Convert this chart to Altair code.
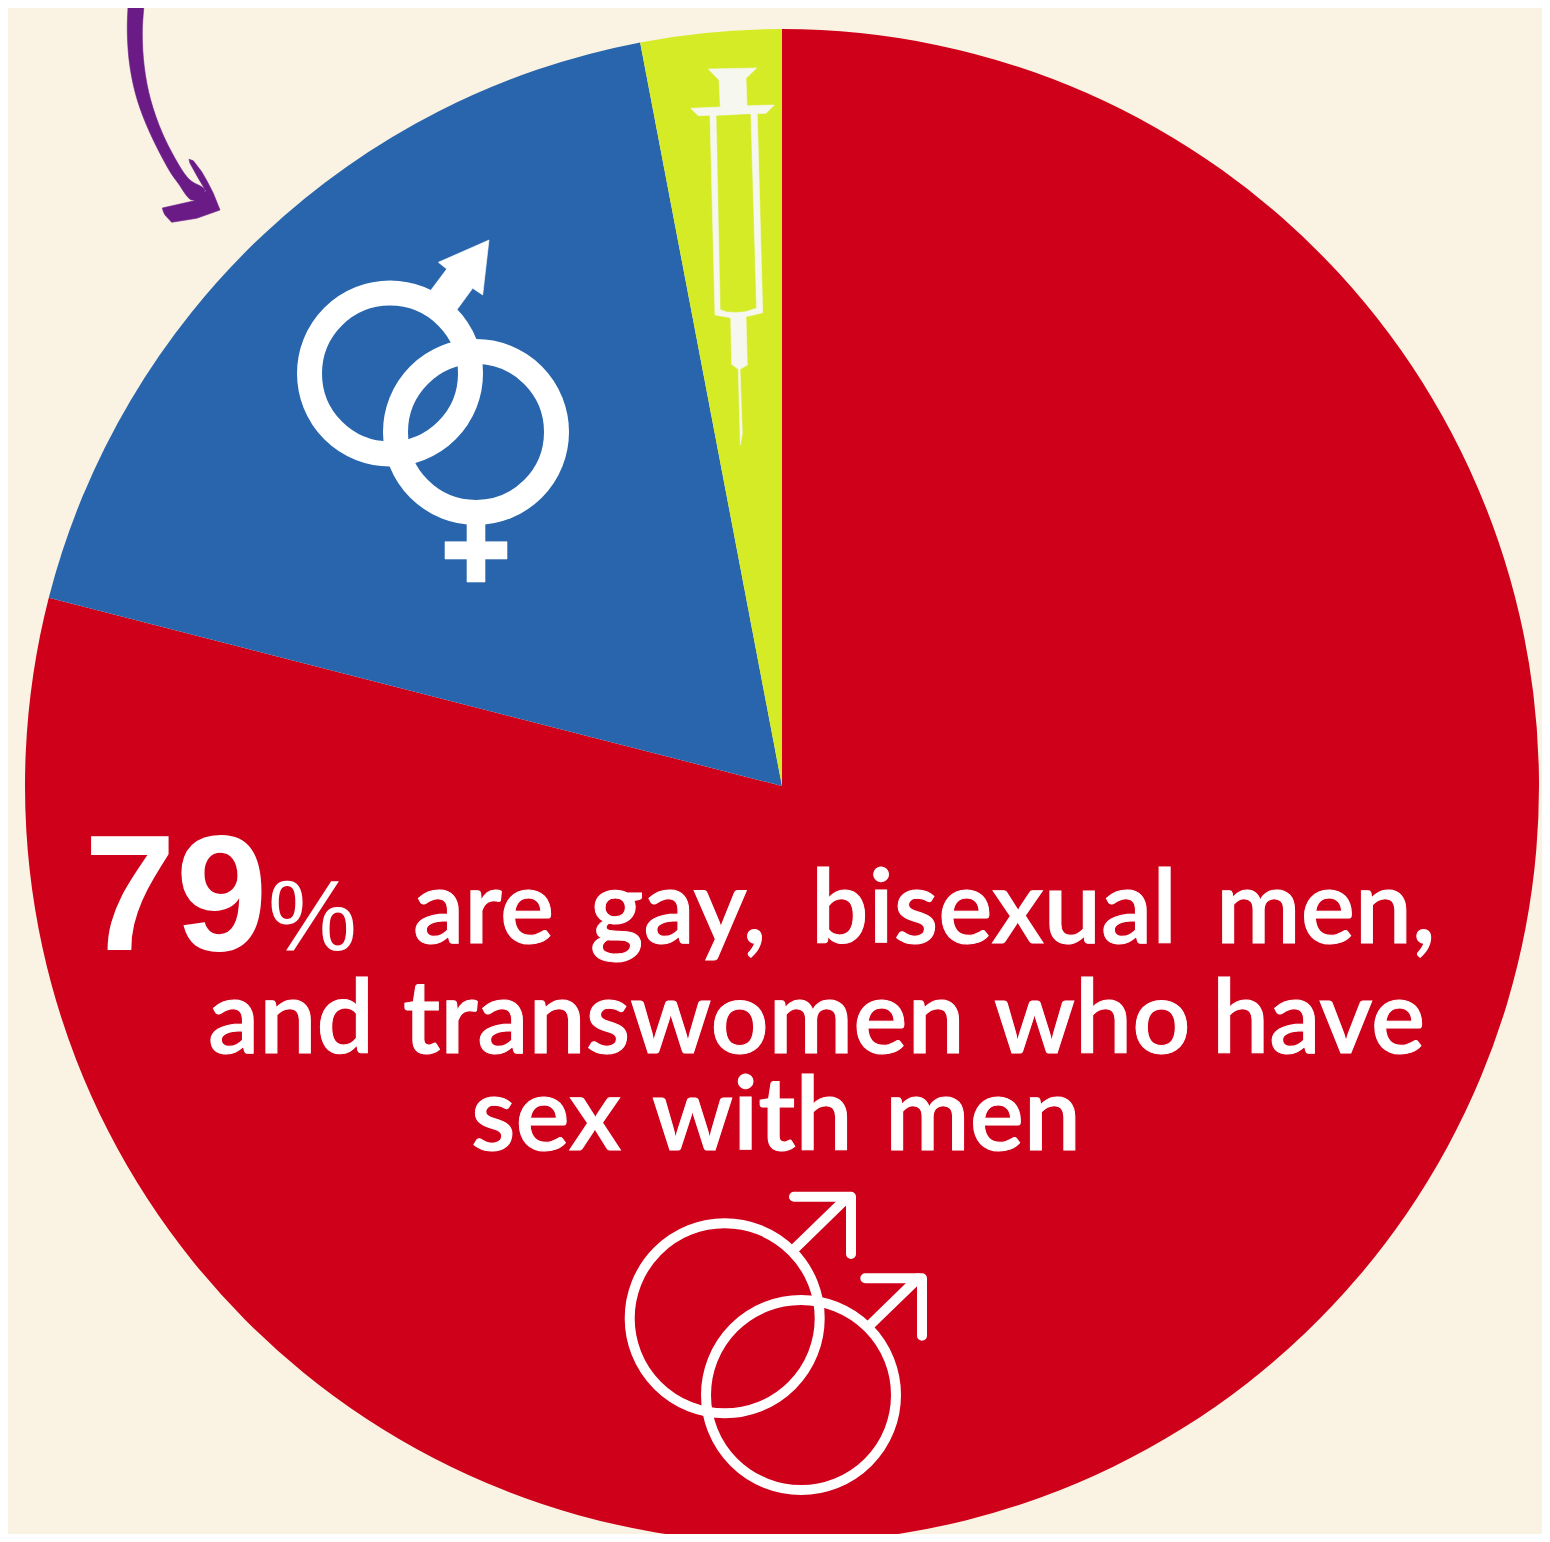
import altair as alt
import pandas as pd

BG = "#FAF3E3"
RED = "#CF001A"
BLUE = "#2865AC"
GREEN = "#D4EB26"
PURPLE = "#6A1B86"
IVORY = "#F6F7EE"
WHITE = "#FFFFFF"

# pie
slice_names = ["MSM", "Heterosexual", "Injection"]
slice_values = [79, 18, 3]
slice_colors = [RED, BLUE, GREEN]
PIE_CENTER = (782, 786)
PIE_RADIUS = 757

# icons as outlines
shaft_pts = [(129,-20),(128.3,0),(127.3,33),(130,67),(137.3,100),(150,133),(167.3,167),(178,183),(191.7,200),
             (205,190),(190,180),(178.3,164),(162.3,133),(150.7,100),(144.3,67),(142.3,33),(144.3,0),(145,-20)]
head_pts = [(193.3,201),(162.3,208),(163.5,212),(165,215),(171.7,222.3),(196.7,218.3),(220,210),(216,200),(213.3,193.3),
            (207,181),(201.7,171.7),(193.3,160.7),(189,159.3),(190,163.3),(198.3,178.3),(206,191)]
syringe_pts = [(708.3,69),(756.7,68),(746,78.3),(747,105.7),(774.3,105),(766,113.3),(757.3,113.7),
               (762.7,312.7),(746,316.7),(747.3,365),(740,369.3),(742.3,433.3),(740.3,445),(738.3,369.3),
               (731.7,364.3),(730.7,317.7),(715,315),(710,115.3),(698.3,115.7),(690.7,108.3),(720.3,107),(719,80)]
barrel_pts = [(716.7,116),(750.3,114.3),(756,307.7),(746,311),(736.7,312),(727,311.5),(720.7,309.3)]
mars_pts = [(431,290),(446.7,269),(438.3,262.3),(489,240),(482.7,295),(472.7,288.3),(457.3,309.3),(445,305)]
venus_stem_pts = [(467,520),(485,520),(485,541.7),(507,541.7),(507,559),(485,559),(485,582),(467,582),(467,559),(445,559),(445,541.7),(467,541.7)]

ring_x = [390, 476]
ring_y = [373.5, 432]
thin_ring_x = [724.7, 801]
thin_ring_y = [1318.3, 1395]
arrow_a = [(794,1196.7),(851,1196.7),(851,1254)]
shaft_a = [(795.7,1247.7),(846.7,1198)]
arrow_b = [(865.3,1278.3),(922,1278.3),(922,1335.7)]
shaft_b = [(871,1324),(918,1278.3)]

# text
words = ["are","gay,","bisexual","men,","and","transwomen","who","have","sex","with","men"]
word_x = [413,590,811,1216,208,403,994,1212,471,652,885]
word_y = [943,943,943,943,1053,1053,1053,1053,1150,1150,1150]
WORD_FONT = "Lato"
WORD_SIZE = 102
BIG_FONT = "Liberation Sans"

xs = alt.Scale(domain=[8, 1542], range=[0, 1534], nice=False, zero=False)
ys = alt.Scale(domain=[8, 1534], range=[0, 1526], nice=False, zero=False)

def X(f="x"):
    return alt.X(f"{f}:Q", scale=xs, axis=None)
def Y(f="y"):
    return alt.Y(f"{f}:Q", scale=ys, axis=None)

def frame(pts):
    return pd.DataFrame({"x":[p[0] for p in pts],"y":[p[1] for p in pts],"i":range(len(pts))})

def poly(pts, color, interp="linear-closed"):
    return alt.Chart(frame(pts)).mark_line(fill=color, stroke=color, strokeWidth=0.6, filled=True, interpolate=interp).encode(
        x=X(), y=Y(), order=alt.Order("i:Q"))

def stroke(pts, width, color=WHITE):
    return alt.Chart(frame(pts)).mark_line(stroke=color, strokeWidth=width, strokeCap="round", strokeJoin="round").encode(
        x=X(), y=Y(), order=alt.Order("i:Q"))

def rings(cx, cy, r, width, color=WHITE):
    return alt.Chart(pd.DataFrame({"x":cx,"y":cy})).mark_point(
        shape="circle", filled=False, stroke=color, strokeWidth=width, opacity=1, size=4*r*r).encode(x=X(), y=Y())

pie_df = pd.DataFrame({"name":slice_names,"value":slice_values,"i":range(3)})
pie = alt.Chart(pie_df).mark_arc(outerRadius=PIE_RADIUS, innerRadius=0).encode(
    theta=alt.Theta("value:Q", stack=True),
    order=alt.Order("i:Q"),
    color=alt.Color("name:N", scale=alt.Scale(domain=slice_names, range=slice_colors), legend=None),
    x=alt.X(datum=PIE_CENTER[0], type="quantitative", scale=xs, axis=None),
    y=alt.Y(datum=PIE_CENTER[1], type="quantitative", scale=ys, axis=None),
)

word_df = pd.DataFrame({"t":words,"x":word_x,"y":word_y})
word_layer = alt.Chart(word_df).mark_text(font=WORD_FONT, fontSize=WORD_SIZE, fontWeight=600, color=WHITE, stroke=WHITE, strokeWidth=1,
    align="left", baseline="alphabetic").encode(x=X(), y=Y(), text="t:N")

big = alt.Chart(pd.DataFrame({"t":["79"],"x":[84],"y":[950]})).mark_text(
    font=BIG_FONT, fontSize=165, fontWeight="bold", color=WHITE, align="left", baseline="alphabetic").encode(x=X(), y=Y(), text="t:N")
pct = alt.Chart(pd.DataFrame({"t":["%"],"x":[268],"y":[950]})).mark_text(
    font=BIG_FONT, fontSize=100, color=WHITE, align="left", baseline="alphabetic").encode(x=X(), y=Y(), text="t:N")

chart = alt.layer(
    pie,
    poly(shaft_pts, PURPLE, "cardinal-closed"),
    poly(head_pts, PURPLE),
    poly(syringe_pts, IVORY),
    poly(barrel_pts, GREEN),
    rings(ring_x, ring_y, 80.5, 25),
    poly(mars_pts, WHITE),
    poly(venus_stem_pts, WHITE),
    rings(thin_ring_x, thin_ring_y, 95, 10),
    stroke(arrow_a, 10), stroke(shaft_a, 10), stroke(arrow_b, 10), stroke(shaft_b, 10),
    big, pct, word_layer,
).properties(width=1534, height=1526, background=BG, padding=0, autosize=alt.AutoSizeParams(type="none")
).configure_view(stroke=None)

chart.save("out.html", embed_options={"renderer": "svg", "actions": False})
